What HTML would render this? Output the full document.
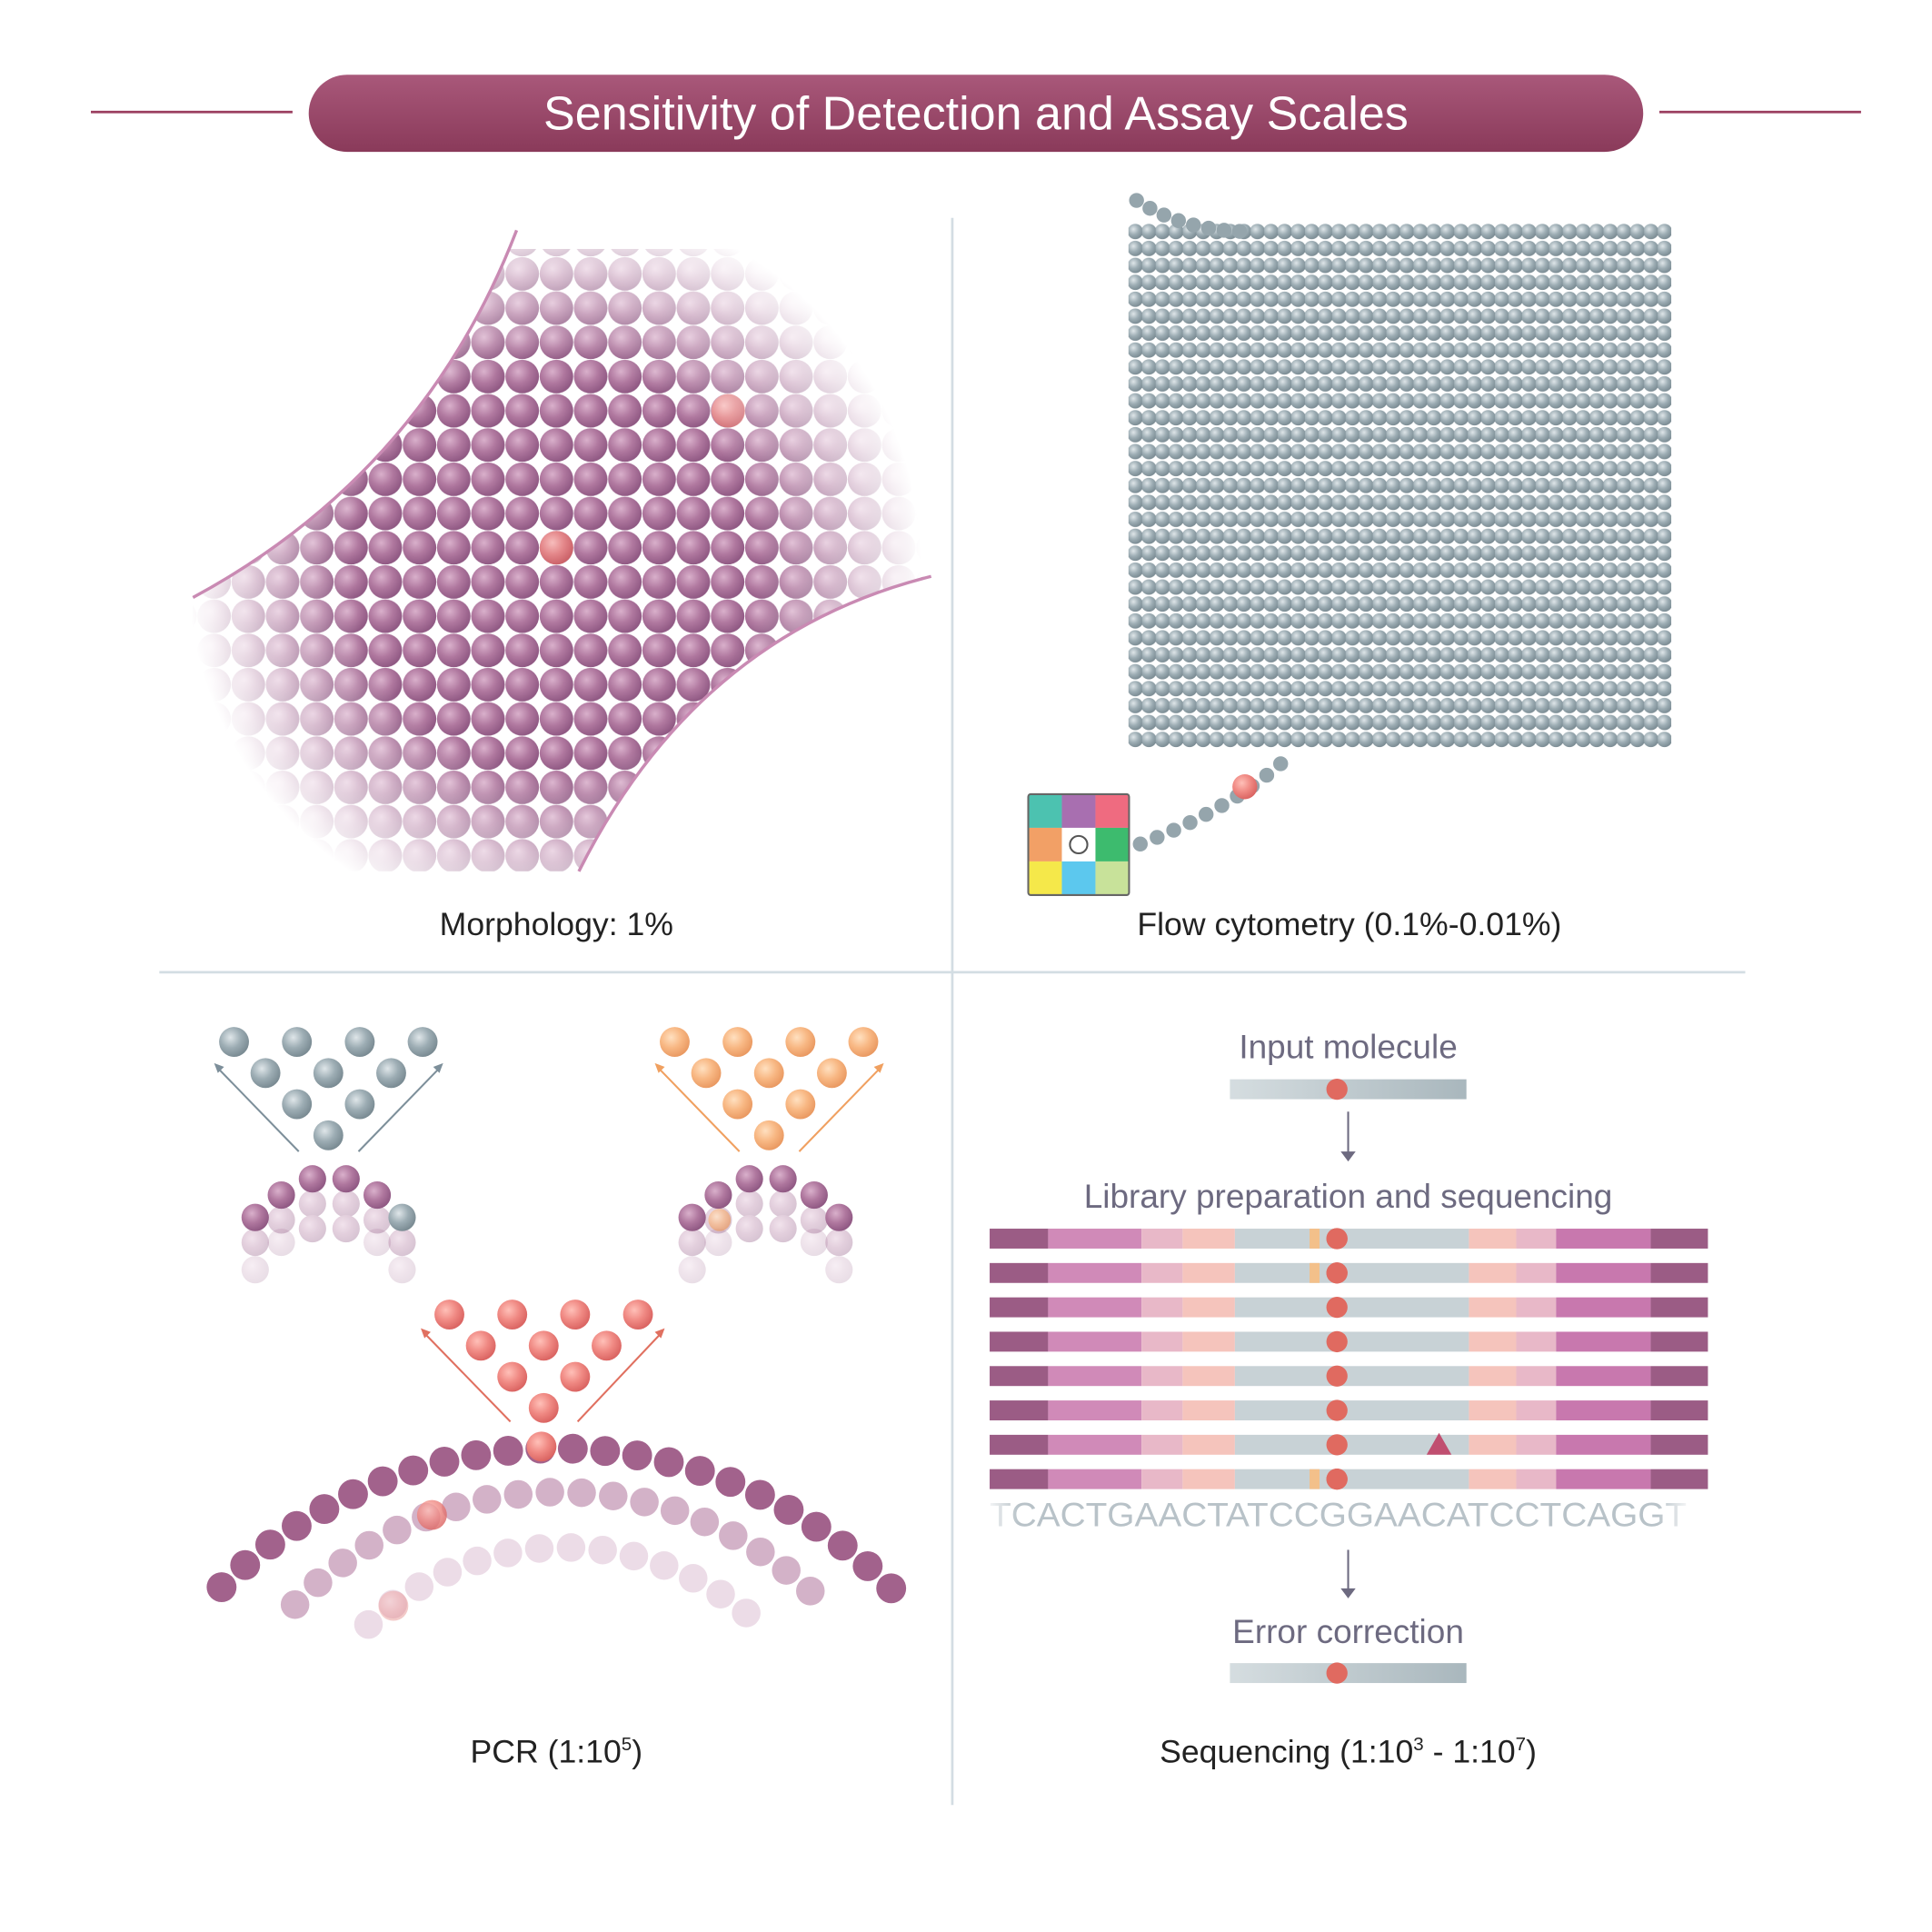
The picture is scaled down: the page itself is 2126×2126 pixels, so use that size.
<!DOCTYPE html>
<html><head><meta charset="utf-8">
<style>
html,body{margin:0;padding:0;background:#fff;}
svg{display:block;}
text{font-family:"Liberation Sans",sans-serif;}
</style></head>
<body>
<svg width="2126" height="2126" viewBox="0 0 1552 1552" xmlns="http://www.w3.org/2000/svg" xmlns:xlink="http://www.w3.org/1999/xlink">
<defs>
<linearGradient id="ban" x1="0" y1="0" x2="0" y2="1"><stop offset="0" stop-color="#a9587a"/><stop offset="1" stop-color="#8a3a5a"/></linearGradient>
<radialGradient id="gm" cx="0.38" cy="0.35" r="0.7"><stop offset="0" stop-color="#d9b0cb"/><stop offset="0.5" stop-color="#b0789f"/><stop offset="1" stop-color="#8c5580"/></radialGradient>
<radialGradient id="gr" cx="0.38" cy="0.35" r="0.7"><stop offset="0" stop-color="#ffc0b8"/><stop offset="0.5" stop-color="#f08a84"/><stop offset="1" stop-color="#d8605e"/></radialGradient>
<radialGradient id="gg" cx="0.38" cy="0.35" r="0.7"><stop offset="0" stop-color="#dfe6e9"/><stop offset="0.5" stop-color="#9dadb4"/><stop offset="1" stop-color="#76878f"/></radialGradient>
<radialGradient id="go" cx="0.38" cy="0.35" r="0.7"><stop offset="0" stop-color="#ffe0c0"/><stop offset="0.5" stop-color="#f8b884"/><stop offset="1" stop-color="#e8965e"/></radialGradient>
<radialGradient id="fade" cx="0.5" cy="0.5" r="0.5"><stop offset="0.55" stop-color="#fff"/><stop offset="1" stop-color="#000"/></radialGradient>
<mask id="mfade" maskUnits="userSpaceOnUse" x="0" y="0" width="1552" height="1552"><rect x="0" y="0" width="1552" height="1552" fill="#000"/><circle cx="445" cy="455" r="295" fill="url(#fade)"/></mask>
<clipPath id="cm"><path d="M155,480 Q340,380 415,185 L760,185 L748,463 Q560,510 465,700 L150,700 Z"/></clipPath>
<pattern id="pm" patternUnits="userSpaceOnUse" x="158.25" y="206.25" width="27.5" height="27.5"><circle cx="13.75" cy="13.75" r="13.5" fill="url(#gm)"/></pattern>
<pattern id="pf" patternUnits="userSpaceOnUse" x="906.55" y="179.2" width="10.9" height="13.6"><circle cx="5.45" cy="6.8" r="6.2" fill="url(#gg)"/></pattern>
<linearGradient id="bar" x1="0" x2="1"><stop offset="0" stop-color="#d5dde0"/><stop offset="1" stop-color="#a9b7bd"/></linearGradient>
<linearGradient id="seqf" x1="0" x2="1"><stop offset="0" stop-color="#fff" stop-opacity="1"/><stop offset="0.05" stop-color="#fff" stop-opacity="0"/><stop offset="0.95" stop-color="#fff" stop-opacity="0"/><stop offset="1" stop-color="#fff" stop-opacity="1"/></linearGradient>
<g id="row">
<rect x="795" y="0" width="47" height="16" fill="#9b5c85"/>
<rect x="842" y="0" width="75" height="16" fill="#d08ab8"/>
<rect x="917" y="0" width="33" height="16" fill="#e8b8c8"/>
<rect x="950" y="0" width="42" height="16" fill="#f5c4bc"/>
<rect x="992" y="0" width="188" height="16" fill="#c8d2d6"/>
<rect x="1180" y="0" width="38" height="16" fill="#f5c4bc"/>
<rect x="1218" y="0" width="32" height="16" fill="#e8b8c8"/>
<rect x="1250" y="0" width="76" height="16" fill="#c878ae"/>
<rect x="1326" y="0" width="46" height="16" fill="#9b5c85"/>
<circle cx="1074" cy="8" r="8.5" fill="#e06a60"/>
</g>
</defs>

<line x1="73" y1="90" x2="235" y2="90" stroke="#9b3f60" stroke-width="2"/>
<line x1="1333" y1="90" x2="1495" y2="90" stroke="#9b3f60" stroke-width="2"/>
<rect x="248" y="60" width="1072" height="62" rx="31" fill="url(#ban)"/>
<text x="784" y="104" text-anchor="middle" font-size="38" fill="#fff">Sensitivity of Detection and Assay Scales</text>

<line x1="765" y1="175" x2="765" y2="1450" stroke="#d3dde3" stroke-width="2"/>
<line x1="128" y1="781" x2="1402" y2="781" stroke="#d3dde3" stroke-width="2"/>

<g clip-path="url(#cm)"><g mask="url(#mfade)">
<rect x="150" y="200" width="610" height="510" fill="url(#pm)"/>
<circle cx="585" cy="330" r="13.5" fill="url(#gr)" opacity="0.8"/>
<circle cx="447" cy="440" r="13.5" fill="url(#gr)" opacity="0.8"/>
</g></g>
<path d="M155,480 Q340,380 415,185" fill="none" stroke="#c98ab3" stroke-width="2.5"/>
<path d="M465,700 Q560,510 748,463" fill="none" stroke="#c98ab3" stroke-width="2.5"/>

<rect x="906.55" y="179.2" width="436" height="421.6" fill="url(#pf)"/>
<path d="M913,161 Q950,185 1000,186" fill="none" stroke="#95a5ac" stroke-width="12" stroke-linecap="round" stroke-dasharray="0 12.5"/>
<path d="M916,678 Q990,650 1036,607" fill="none" stroke="#95a5ac" stroke-width="12" stroke-linecap="round" stroke-dasharray="0 14.5"/>
<circle cx="1000" cy="632" r="10" fill="url(#gr)"/>
<g transform="translate(826,638)">
<rect x="0" y="0" width="27" height="27" fill="#4cc2b0"/><rect x="27" y="0" width="27" height="27" fill="#a86fb0"/><rect x="54" y="0" width="27" height="27" fill="#ef6b80"/>
<rect x="0" y="27" width="27" height="27" fill="#f2a066"/><rect x="27" y="27" width="27" height="27" fill="#fff"/><rect x="54" y="27" width="27" height="27" fill="#3dbb6e"/>
<rect x="0" y="54" width="27" height="27" fill="#f5e84a"/><rect x="27" y="54" width="27" height="27" fill="#5cc8ee"/><rect x="54" y="54" width="27" height="27" fill="#c8e29a"/>
<circle cx="40.5" cy="40.5" r="7" fill="none" stroke="#555" stroke-width="1.5"/>
<rect x="0" y="0" width="81" height="81" fill="none" stroke="#666" stroke-width="1.5" rx="2"/>
</g>

<text x="447" y="751" text-anchor="middle" font-size="26" fill="#222">Morphology: 1%</text>
<text x="1084" y="751" text-anchor="middle" font-size="26" fill="#222">Flow cytometry (0.1%-0.01%)</text>
<text x="447" y="1416" text-anchor="middle" font-size="26" fill="#222">PCR (1:10<tspan font-size="15" dy="-10">5</tspan><tspan dy="10">)</tspan></text>
<text x="1083" y="1416" text-anchor="middle" font-size="26" fill="#222">Sequencing (1:10<tspan font-size="15" dy="-10">3</tspan><tspan dy="10"> - 1:10</tspan><tspan font-size="15" dy="-10">7</tspan><tspan dy="10">)</tspan></text>

<path d="M296,1305 A230,230 0 0 1 610,1305" fill="none" stroke="#c08aae" stroke-width="23" stroke-linecap="round" stroke-dasharray="0 25.5" opacity="0.3"/>
<path d="M237,1289 A295,295 0 0 1 663,1290" fill="none" stroke="#b57ea3" stroke-width="23" stroke-linecap="round" stroke-dasharray="0 25.5" opacity="0.6"/>
<path d="M178,1275 A379,379 0 0 1 716,1276" fill="none" stroke="#a2628c" stroke-width="24" stroke-linecap="round" stroke-dasharray="0 26"/>
<circle cx="435" cy="1162" r="12" fill="url(#gr)"/>
<circle cx="347" cy="1217" r="12" fill="url(#gr)" opacity="0.8"/>
<circle cx="316" cy="1290" r="12" fill="url(#gr)" opacity="0.35"/>

<g fill="url(#gg)">
<circle cx="188" cy="837" r="12"/><circle cx="238.5" cy="837" r="12"/><circle cx="289" cy="837" r="12"/><circle cx="339.5" cy="837" r="12"/>
<circle cx="213.25" cy="862" r="12"/><circle cx="263.75" cy="862" r="12"/><circle cx="314.25" cy="862" r="12"/>
<circle cx="238.5" cy="887" r="12"/><circle cx="289" cy="887" r="12"/><circle cx="263.75" cy="912" r="12"/>
</g>
<g fill="url(#go)">
<circle cx="542" cy="837" r="12"/><circle cx="592.5" cy="837" r="12"/><circle cx="643" cy="837" r="12"/><circle cx="693.5" cy="837" r="12"/>
<circle cx="567.25" cy="862" r="12"/><circle cx="617.75" cy="862" r="12"/><circle cx="668.25" cy="862" r="12"/>
<circle cx="592.5" cy="887" r="12"/><circle cx="643" cy="887" r="12"/><circle cx="617.75" cy="912" r="12"/>
</g>
<g fill="url(#gr)">
<circle cx="361" cy="1056" r="12"/><circle cx="411.5" cy="1056" r="12"/><circle cx="462" cy="1056" r="12"/><circle cx="512.5" cy="1056" r="12"/>
<circle cx="386.25" cy="1081" r="12"/><circle cx="436.75" cy="1081" r="12"/><circle cx="487.25" cy="1081" r="12"/>
<circle cx="411.5" cy="1106" r="12"/><circle cx="462" cy="1106" r="12"/><circle cx="436.75" cy="1131" r="12"/>
</g>
<g stroke-width="1.5">
<line x1="240" y1="925" x2="174" y2="857" stroke="#7d8f9a"/><line x1="288" y1="925" x2="354" y2="857" stroke="#7d8f9a"/>
<line x1="594" y1="925" x2="528" y2="857" stroke="#f0a060"/><line x1="642" y1="925" x2="708" y2="857" stroke="#f0a060"/>
<line x1="410" y1="1142" x2="340" y2="1070" stroke="#e07060"/><line x1="464" y1="1142" x2="532" y2="1070" stroke="#e07060"/>
</g>
<polygon points="172,854 180,857 175,862" fill="#7d8f9a"/><polygon points="356,854 348,857 353,862" fill="#7d8f9a"/>
<polygon points="526,854 534,857 529,862" fill="#f0a060"/><polygon points="710,854 702,857 707,862" fill="#f0a060"/>
<polygon points="338,1067 346,1070 341,1075" fill="#e07060"/><polygon points="534,1067 526,1070 531,1075" fill="#e07060"/>

<g id="sa" fill="url(#gm)">
<g opacity="0.2"><circle cx="205" cy="1020" r="11"/><circle cx="323" cy="1020" r="11"/><circle cx="226" cy="998" r="11"/><circle cx="303" cy="998" r="11"/></g>
<g opacity="0.35"><circle cx="205" cy="998" r="11"/><circle cx="226" cy="980" r="11"/><circle cx="251" cy="967" r="11"/><circle cx="278" cy="967" r="11"/><circle cx="303" cy="980" r="11"/><circle cx="323" cy="998" r="11"/><circle cx="251" cy="987" r="11"/><circle cx="278" cy="987" r="11"/></g>
<circle cx="205" cy="978" r="11"/><circle cx="226" cy="960" r="11"/><circle cx="251" cy="947" r="11"/><circle cx="278" cy="947" r="11"/><circle cx="303" cy="960" r="11"/>
</g>
<circle cx="323" cy="978" r="11" fill="url(#gg)"/>
<use xlink:href="#sa" href="#sa" transform="translate(351,0)"/>
<circle cx="674" cy="978" r="11" fill="url(#gm)"/>
<circle cx="578" cy="980" r="9" fill="url(#go)" opacity="0.7"/>

<text x="1083" y="850" text-anchor="middle" font-size="27" fill="#6d6a80">Input molecule</text>
<text x="1083" y="970" text-anchor="middle" font-size="27" fill="#6d6a80">Library preparation and sequencing</text>
<text x="1083" y="1320" text-anchor="middle" font-size="27" fill="#6d6a80">Error correction</text>
<rect x="988" y="867" width="190" height="16" fill="url(#bar)"/><circle cx="1074" cy="875" r="8.5" fill="#e06a60"/>
<rect x="988" y="1336" width="190" height="16" fill="url(#bar)"/><circle cx="1074" cy="1344" r="8.5" fill="#e06a60"/>
<line x1="1083" y1="893" x2="1083" y2="927" stroke="#6d6a80" stroke-width="1.5"/><polygon points="1077,925 1089,925 1083,933" fill="#6d6a80"/>
<line x1="1083" y1="1245" x2="1083" y2="1278" stroke="#6d6a80" stroke-width="1.5"/><polygon points="1077,1276 1089,1276 1083,1284" fill="#6d6a80"/>
<use href="#row" xlink:href="#row" transform="translate(0,987)"/>
<use href="#row" xlink:href="#row" transform="translate(0,1014.6)"/>
<use href="#row" xlink:href="#row" transform="translate(0,1042.2)"/>
<use href="#row" xlink:href="#row" transform="translate(0,1069.8)"/>
<use href="#row" xlink:href="#row" transform="translate(0,1097.4)"/>
<use href="#row" xlink:href="#row" transform="translate(0,1125)"/>
<use href="#row" xlink:href="#row" transform="translate(0,1152.6)"/>
<use href="#row" xlink:href="#row" transform="translate(0,1180.2)"/>
<rect x="1052" y="987" width="8" height="16" fill="#f3c08a"/>
<rect x="1052" y="1014.6" width="8" height="16" fill="#f3c08a"/>
<rect x="1052" y="1180.2" width="8" height="16" fill="#f3c08a"/>
<circle cx="1074" cy="995" r="8.5" fill="#e06a60"/><circle cx="1074" cy="1022.6" r="8.5" fill="#e06a60"/><circle cx="1074" cy="1188.2" r="8.5" fill="#e06a60"/>
<polygon points="1146,1168.6 1166,1168.6 1156,1151" fill="#c04f70"/>
<text x="1075" y="1226" text-anchor="middle" font-size="27" fill="#b8c2c8" textLength="560" lengthAdjust="spacingAndGlyphs">TCACTGAACTATCCGGAACATCCTCAGGT</text>
<rect x="790" y="1200" width="570" height="35" fill="url(#seqf)"/>
</svg>
</body></html>
